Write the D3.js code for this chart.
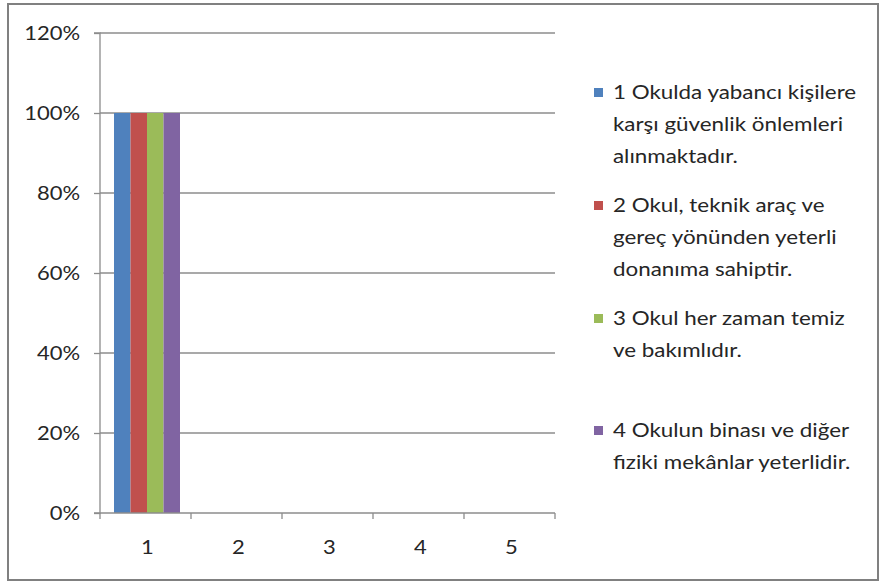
<!DOCTYPE html>
<html><head><meta charset="utf-8">
<script src="https://cdn.jsdelivr.net/npm/d3@7"></script>
<style>body{margin:0;background:#fff}</style>
</head><body>
<svg id="c" width="881" height="582"></svg>
<script>
const categories = ["1","2","3","4","5"];
const seriesNames = [
  "1 Okulda yabancı kişilere karşı güvenlik önlemleri alınmaktadır.",
  "2 Okul, teknik araç ve gereç yönünden yeterli donanıma sahiptir.",
  "3 Okul her zaman temiz ve bakımlıdır.",
  "4 Okulun binası ve diğer fiziki mekânlar yeterlidir."
];
const legendLines = [
  ["1 Okulda yabancı kişilere","karşı güvenlik önlemleri","alınmaktadır."],
  ["2 Okul, teknik araç ve","gereç yönünden yeterli","donanıma sahiptir."],
  ["3 Okul her zaman temiz","ve bakımlıdır."],
  ["4 Okulun binası ve diğer","fiziki mekânlar yeterlidir."]
];
const seriesValues = [
  [1, null, null, null, null],
  [1, null, null, null, null],
  [1, null, null, null, null],
  [1, null, null, null, null]
];
const yTicks = [0, 0.2, 0.4, 0.6, 0.8, 1.0, 1.2];
const colors = ["#4F81BD","#C0504D","#9BBB59","#8064A2"];

(function(){
const svg = d3.select("#c");
const font = "Lato, 'Open Sans', sans-serif";
const txtCol = "#262626";
svg.append("rect").attr("x",8).attr("y",4).attr("width",870).attr("height",576)
  .attr("fill","#fff").attr("stroke","#808080").attr("stroke-width",2);

const pL=100, pR=555, pT=33, pB=513;
const x = d3.scaleBand().domain(categories).range([pL,pR]).padding(0);
const x1 = d3.scaleBand().domain(d3.range(seriesNames.length)).range([14, x.bandwidth()-11]);
const y = d3.scaleLinear().domain([0,1.2]).range([pB,pT]);

svg.append("g").selectAll("line").data(yTicks.filter(d=>d>0)).join("line")
  .attr("x1",pL).attr("x2",pR).attr("y1",d=>y(d)).attr("y2",d=>y(d))
  .attr("stroke","#8c8c8c").attr("stroke-width",1.3);

categories.forEach((c,i)=>{
  seriesValues.forEach((vals,s)=>{
    const v = vals[i];
    if(v==null) return;
    svg.append("rect").attr("x",x(c)+x1(s)).attr("width",x1.bandwidth())
      .attr("y",y(v)).attr("height",y(0)-y(v)).attr("fill",colors[s]);
  });
});

const ya = svg.append("g").attr("transform",`translate(${pL},0)`)
  .call(d3.axisLeft(y).tickValues(yTicks).tickFormat(d3.format(".0%")).tickSize(6).tickPadding(12));
ya.select(".domain").attr("stroke","#8c8c8c").attr("stroke-width",1.3).attr("d",`M-6,${pT}H0V${pB}H-6`);
ya.selectAll(".tick line").attr("stroke","#8c8c8c").attr("stroke-width",1.3);
ya.selectAll("text").attr("font-family",font).attr("font-size",20).attr("fill",txtCol)
  .attr("transform","scale(1.1,1)");

const xa = svg.append("g").attr("transform",`translate(0,${pB})`)
  .call(d3.axisBottom(x).tickSize(0).tickPadding(27));
xa.select(".domain").remove();
xa.append("line").attr("x1",pL).attr("x2",pR).attr("stroke","#8c8c8c").attr("stroke-width",1.3);
xa.selectAll(".tk").data(d3.range(categories.length+1)).join("line").attr("class","tk")
  .attr("x1",d=>pL+d*x.step()).attr("x2",d=>pL+d*x.step()).attr("y1",0).attr("y2",6)
  .attr("stroke","#8c8c8c").attr("stroke-width",1.3);
xa.selectAll(".tick text").attr("font-family",font).attr("font-size",20).attr("fill",txtCol)
  .attr("transform","translate(2,0) scale(1.1,1)");

const legTops = [92, 205, 318, 430];
const lg = svg.append("g");
legendLines.forEach((lines,s)=>{
  lg.append("rect").attr("x",594).attr("y",legTops[s]-4).attr("width",9).attr("height",9).attr("fill",colors[s]);
  lines.forEach((t,j)=>{
    lg.append("text").attr("transform",`translate(613,${legTops[s]+j*32+7}) scale(1.12,1)`)
      .attr("font-family",font).attr("font-size",20).attr("fill",txtCol).text(t);
  });
});
})();
</script>
</body></html>
